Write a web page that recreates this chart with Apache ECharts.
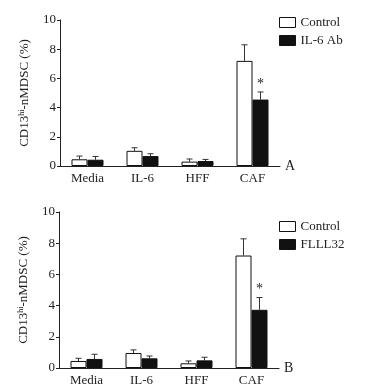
<!DOCTYPE html>
<html>
<head>
<meta charset="utf-8">
<script src="https://cdn.jsdelivr.net/npm/echarts@6/dist/echarts.min.js"></script>
<style>
  html, body { margin: 0; padding: 0; background: #fff; }
  #chart { width: 385px; height: 388px; }
</style>
</head>
<body>
<div id="chart"></div>
<script>
// 分组
const categories = ['Media', 'IL-6', 'HFF', 'CAF'];
const yTicks = [0, 2, 4, 6, 8, 10];

// A: Control / IL-6 Ab
const ctrlA = [0.46, 1.04, 0.30, 7.2];
const ctrlSdA = [0.22, 0.21, 0.18, 1.1];
const abA = [0.43, 0.68, 0.34, 4.55];
const abSdA = [0.22, 0.16, 0.11, 0.52];
const sigA = [0, 0, 0, 1];

// B: Control / FLLL32
const ctrlB = [0.45, 0.96, 0.30, 7.21];
const ctrlSdB = [0.17, 0.2, 0.15, 1.07];
const flB = [0.58, 0.62, 0.49, 3.73];
const flSdB = [0.3, 0.15, 0.2, 0.79];
const sigB = [0, 0, 0, 1];

const FONT = 'Liberation Serif';
const BAR_W = 16;

// 误差线（只画上半部分）
function errorSeries(idx, values, sds, sig, side) {
  return {
    type: 'custom',
    xAxisIndex: idx,
    yAxisIndex: idx,
    silent: true,
    z: 1,
    data: values.map((v, i) => [i, v, sds[i], sig[i]]),
    renderItem: (params, api) => {
      const base = api.coord([api.value(0), api.value(1)]);
      const top = api.coord([api.value(0), api.value(1) + api.value(2)]);
      const x = base[0] + side * BAR_W / 2;
      const children = [
        { type: 'line', shape: { x1: x, y1: base[1], x2: x, y2: top[1] }, style: { stroke: '#333', lineWidth: 1 } },
        { type: 'line', shape: { x1: x - 3, y1: top[1], x2: x + 3, y2: top[1] }, style: { stroke: '#333', lineWidth: 1 } },
      ];
      if (api.value(3)) {
        children.push({
          type: 'text',
          style: { text: '*', x, y: top[1] - 1, align: 'center', verticalAlign: 'bottom', font: `14px "${FONT}"`, fill: '#222' },
        });
      }
      return { type: 'group', children };
    },
  };
}

function barSeries(idx, name, values, fill) {
  return {
    name,
    type: 'bar',
    xAxisIndex: idx,
    yAxisIndex: idx,
    barWidth: BAR_W,
    barGap: '0%',
    z: 2,
    itemStyle: { color: fill, borderColor: '#111', borderWidth: 1 },
    data: values,
  };
}

function xAxis(idx, letter) {
  return {
    type: 'category',
    gridIndex: idx,
    data: categories,
    name: letter,
    nameLocation: 'end',
    nameGap: 5,
    nameTextStyle: { fontFamily: FONT, fontSize: 14, color: '#222', verticalAlign: 'middle', padding: [2, 0, 0, 0] },
    axisLine: { lineStyle: { color: '#222', width: 1 } },
    axisTick: { show: false },
    axisLabel: { fontFamily: FONT, fontSize: 13, color: '#222', margin: 6 },
  };
}

function yAxis(idx) {
  return {
    type: 'value',
    gridIndex: idx,
    min: yTicks[0],
    max: yTicks[yTicks.length - 1],
    interval: 2,
    name: '{n|CD13}{s|hi}{n|-nMDSC (%)}',
    nameLocation: 'middle',
    nameRotate: 90,
    nameGap: 28,
    nameTextStyle: {
      rich: {
        n: { fontFamily: FONT, fontSize: 13, color: '#222' },
        s: { fontFamily: FONT, fontSize: 8, color: '#222', verticalAlign: 'top', padding: [0, 0, 6, 0] },
      },
    },
    axisLine: { show: true, lineStyle: { color: '#222', width: 1 } },
    axisTick: { show: true, length: 3, lineStyle: { color: '#222' } },
    axisLabel: { fontFamily: FONT, fontSize: 13, color: '#222', margin: 4 },
    splitLine: { show: false },
  };
}

function legend(top, names) {
  return {
    orient: 'vertical',
    left: 279,
    top,
    padding: 0,
    itemWidth: 16,
    itemHeight: 10,
    itemGap: 5,
    icon: 'rect',
    selectedMode: false,
    itemStyle: { borderWidth: 1, borderColor: '#111' },
    textStyle: { fontFamily: FONT, fontSize: 13, color: '#222', padding: [0, 0, 0, 0] },
    data: names,
  };
}

const myChart = echarts.init(document.getElementById('chart'));

const option = {
  backgroundColor: '#ffffff',
  animation: false,
  grid: [
    { left: 60, top: 20, width: 220, height: 146 },
    { left: 59, top: 212, width: 220, height: 156 },
  ],
  legend: [
    legend(16, ['Control', 'IL-6 Ab']),
    legend(220, ['Control', 'FLLL32']),
  ],
  xAxis: [xAxis(0, 'A'), xAxis(1, 'B')],
  yAxis: [yAxis(0), yAxis(1)],
  series: [
    barSeries(0, 'Control', ctrlA, '#ffffff'),
    barSeries(0, 'IL-6 Ab', abA, '#111111'),
    errorSeries(0, ctrlA, ctrlSdA, [0, 0, 0, 0], -1),
    errorSeries(0, abA, abSdA, sigA, 1),
    barSeries(1, 'Control', ctrlB, '#ffffff'),
    barSeries(1, 'FLLL32', flB, '#111111'),
    errorSeries(1, ctrlB, ctrlSdB, [0, 0, 0, 0], -1),
    errorSeries(1, flB, flSdB, sigB, 1),
  ],
};

myChart.setOption(option);
</script>
</body>
</html>
